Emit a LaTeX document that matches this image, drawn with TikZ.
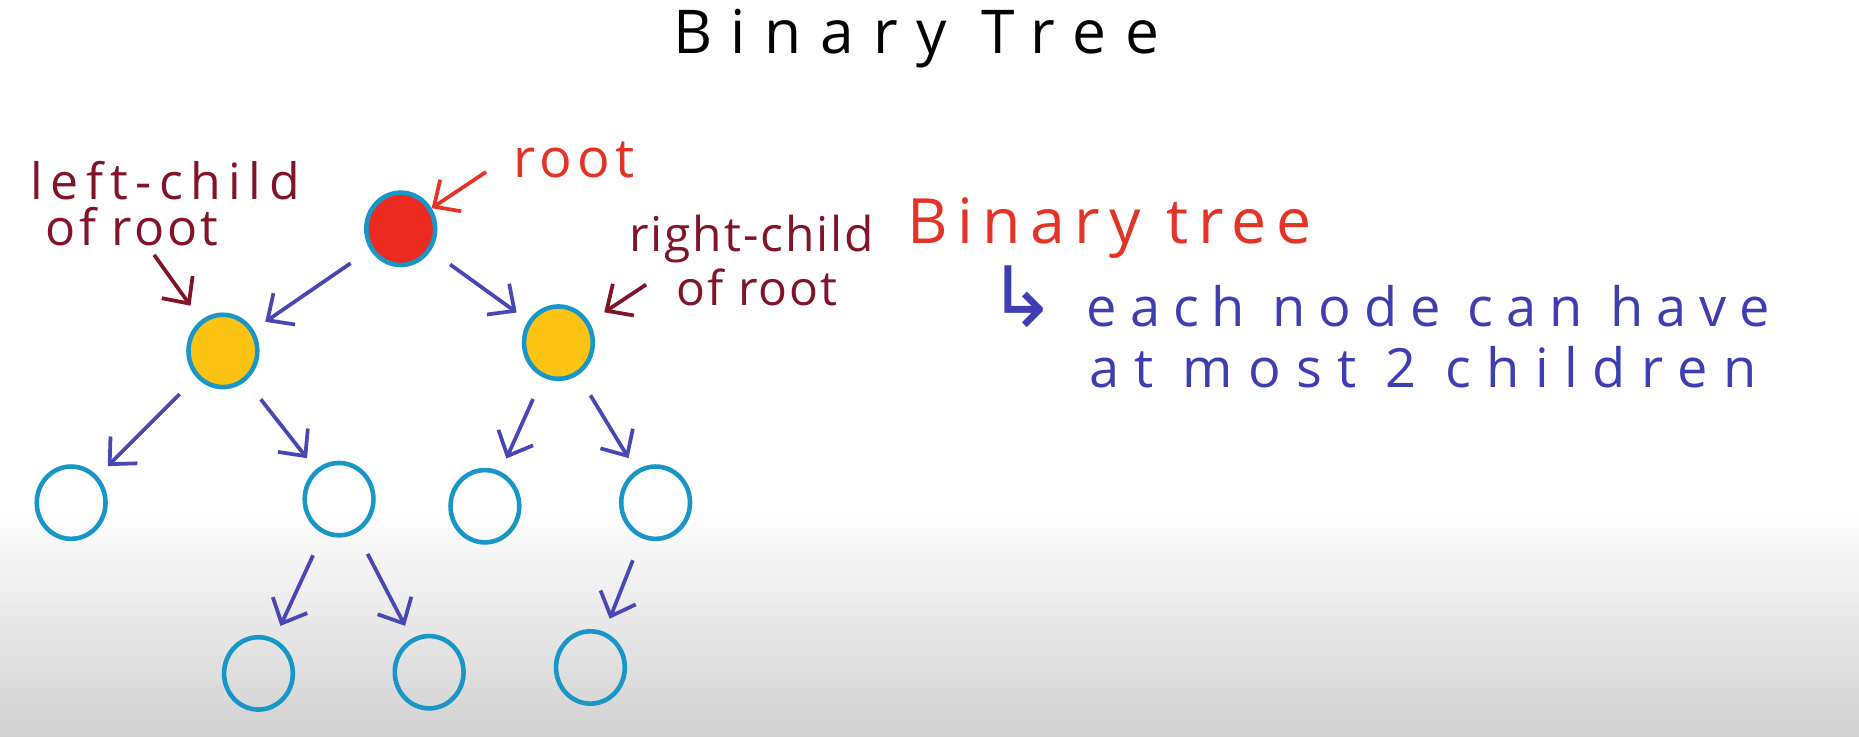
\documentclass[tikz,border=0pt]{standalone}
\usepackage{fontspec}
\setmainfont{Open Sans}
\newfontfamily\handfont{Open Sans}
\newfontfamily\symbfont{DejaVu Sans}
\definecolor{treeblue}{RGB}{24,150,200}
\definecolor{treered}{RGB}{236,42,32}
\definecolor{treeyellow}{RGB}{252,195,18}
\definecolor{arrowblue}{RGB}{72,72,180}
\definecolor{labelred}{RGB}{130,20,40}
\definecolor{textred}{RGB}{228,52,40}
\definecolor{textblue}{RGB}{62,62,178}
\usetikzlibrary{arrows.meta,shapes.geometric}

\begin{document}
\begin{tikzpicture}
  \tikzset{treenode/.style={ellipse, draw=treeblue, line width=1.1pt, minimum width=0.58cm,
      minimum height=0.61cm, inner sep=0pt},
    treearrow/.style={draw=arrowblue, line width=0.9pt, -{Straight Barb[length=1.7mm,width=3.2mm]},
      shorten <=0.2cm, shorten >=0.12cm},
    pointer/.style={line width=0.9pt, -{Straight Barb[length=1.7mm,width=3.2mm]}},
    hand/.style={anchor=base west, inner sep=0pt, font=\handfont\fontsize{#1}{#1}\selectfont}}
  % Background
  \fill[white] (0,0) rectangle (15.68,-6.21);
  \shade[top color=white, bottom color=black!18] (0,-4.3) rectangle (15.68,-6.21);
  % Title
  \node[hand=14.5] (title) at (5.67,-0.45) {\addfontfeature{LetterSpace=31}Binary Tree};
  % Level 0 and 1
  \node[treenode, fill=treered]    (root) at (3.38,-1.93) {};
  \node[treenode, fill=treeyellow] (lc)   at (1.88,-2.96) {};
  \node[treenode, fill=treeyellow] (rc)   at (4.71,-2.89) {};
  % Level 2
  \node[treenode] (la) at (0.60,-4.24) {};
  \node[treenode] (lb) at (2.86,-4.21) {};
  \node[treenode] (ra) at (4.09,-4.27) {};
  \node[treenode] (rb) at (5.53,-4.24) {};
  % Level 3
  \node[treenode] (lba) at (2.18,-5.68) {};
  \node[treenode] (lbb) at (3.62,-5.67) {};
  \node[treenode] (rba) at (4.98,-5.63) {};
  % Tree arrows
  \draw[treearrow] (root) -- (lc);
  \draw[treearrow] (root) -- (rc);
  \draw[treearrow] (lc) -- (la);
  \draw[treearrow] (lc) -- (lb);
  \draw[treearrow] (rc) -- (ra);
  \draw[treearrow] (rc) -- (rb);
  \draw[treearrow] (lb) -- (lba);
  \draw[treearrow] (lb) -- (lbb);
  \draw[treearrow] (rb) -- (rba);
  % Labels
  \node[hand=13, text=textred] (rootlbl) at (4.32,-1.50) {\addfontfeature{LetterSpace=10}root};
  \node[hand=12, text=labelred] (lclblA) at (0.25,-1.68) {\addfontfeature{LetterSpace=15}left-child};
  \node[hand=12, text=labelred] (lclblB) at (0.38,-2.07) {\addfontfeature{LetterSpace=6}of root};
  \node[hand=11.5, text=labelred] (rclblA) at (5.30,-2.12) {\addfontfeature{LetterSpace=4}right-child};
  \node[hand=11.5, text=labelred] (rclblB) at (5.70,-2.58) {\addfontfeature{LetterSpace=4}of root};
  \coordinate (rootptr) at (4.10,-1.45);
  \coordinate (lcptr)   at (1.30,-2.15);
  \coordinate (rcptr)   at (5.45,-2.40);
  \draw[pointer, textred]  (rootptr) -- (root);
  \draw[pointer, labelred, shorten >=0.15cm] (lcptr) -- (lc);
  \draw[pointer, labelred, shorten >=0.15cm] (rcptr) -- (rc);
  % Definition
  \node[hand=15, text=textred] (deftitle) at (7.65,-2.05) {\addfontfeature{LetterSpace=15}Binary tree};
  \node[hand=13, text=textblue] (defline1) at (8.32,-2.75)
    {{\symbfont\fontsize{20}{20}\selectfont ↳}\hspace{0.25cm}\addfontfeature{LetterSpace=24}each node can have};
  \node[hand=13, text=textblue] (defline2) at (9.18,-3.27)
    {\addfontfeature{LetterSpace=28}at most 2 children};
\end{tikzpicture}
\end{document}
